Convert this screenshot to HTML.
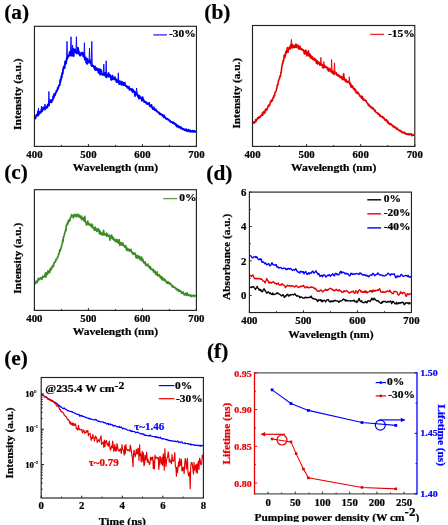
<!DOCTYPE html>
<html><head><meta charset="utf-8"><style>
html,body{margin:0;padding:0;background:#fff;width:448px;height:525px;overflow:hidden}
svg{display:block;will-change:transform;font-family:"Liberation Serif",serif;font-weight:bold}
</style></head><body>
<svg width="448" height="525" viewBox="0 0 448 525">
<text x="4.2" y="18.8" font-size="21.3" text-anchor="start" fill="#000"  stroke="#000" stroke-width="0.22">(a)</text>
<text x="204.3" y="18.8" font-size="21.3" text-anchor="start" fill="#000"  stroke="#000" stroke-width="0.22">(b)</text>
<text x="4.2" y="178.5" font-size="21.3" text-anchor="start" fill="#000"  stroke="#000" stroke-width="0.22">(c)</text>
<text x="206.3" y="179.8" font-size="21.3" text-anchor="start" fill="#000"  stroke="#000" stroke-width="0.22">(d)</text>
<text x="4.2" y="364.9" font-size="21.3" text-anchor="start" fill="#000"  stroke="#000" stroke-width="0.22">(e)</text>
<text x="207" y="357.5" font-size="21.3" text-anchor="start" fill="#000"  stroke="#000" stroke-width="0.22">(f)</text>
<path d="M35.1 116.9 L35.4 118.5 L35.7 118.0 L36.0 115.3 L36.4 115.3 L36.7 114.6 L37.0 115.7 L37.4 114.5 L37.7 115.2 L38.0 111.3 L38.3 115.7 L38.7 113.1 L39.0 113.8 L39.3 112.4 L39.7 111.9 L40.0 112.8 L40.3 113.0 L40.7 111.4 L41.0 111.3 L41.3 112.2 L41.6 109.9 L42.0 108.8 L42.3 111.1 L42.6 109.5 L43.0 107.6 L43.3 108.8 L43.6 109.0 L44.0 107.7 L44.3 107.1 L44.6 108.8 L44.9 109.6 L45.3 107.8 L45.6 106.8 L45.9 108.0 L46.3 108.1 L46.6 106.4 L46.9 107.2 L47.3 107.5 L47.6 105.5 L47.9 104.3 L48.2 105.4 L48.6 104.9 L48.9 105.6 L49.2 102.1 L49.6 102.5 L49.9 101.8 L50.2 100.2 L50.6 102.1 L50.9 102.2 L51.2 100.1 L51.5 102.3 L51.9 101.1 L52.2 100.4 L52.5 99.5 L52.9 99.7 L53.2 96.2 L53.5 98.1 L53.9 97.5 L54.2 93.9 L54.5 95.9 L54.8 94.5 L55.2 95.1 L55.5 92.9 L55.8 92.8 L56.2 92.5 L56.5 90.3 L56.8 91.4 L57.2 89.8 L57.5 89.7 L57.8 87.7 L58.1 88.8 L58.5 87.3 L58.8 85.5 L59.1 85.5 L59.5 85.3 L59.8 85.0 L60.1 79.9 L60.5 81.8 L60.8 80.2 L61.1 78.3 L61.4 75.9 L61.8 77.6 L62.1 73.0 L62.4 74.1 L62.8 73.8 L63.1 68.6 L63.4 69.1 L63.8 66.5 L64.1 67.5 L64.4 68.2 L64.7 67.9 L65.1 61.3 L65.4 62.1 L65.7 63.1 L66.1 63.6 L66.4 61.0 L66.7 58.4 L67.1 59.3 L67.4 58.1 L67.7 57.1 L68.0 55.6 L68.4 56.8 L68.7 56.1 L69.0 54.9 L69.4 54.2 L69.7 52.0 L70.0 52.9 L70.4 55.5 L70.7 52.8 L71.0 50.2 L71.3 54.9 L71.7 53.2 L72.0 55.9 L72.3 51.9 L72.7 50.7 L73.0 48.7 L73.3 53.8 L73.7 56.1 L74.0 49.4 L74.3 49.7 L74.6 52.1 L75.0 49.3 L75.3 50.4 L75.6 50.3 L76.0 51.5 L76.3 53.4 L76.6 51.4 L77.0 53.3 L77.3 50.8 L77.6 52.4 L77.9 47.7 L78.3 49.3 L78.6 53.8 L78.9 51.3 L79.3 53.8 L79.6 53.9 L79.9 55.6 L80.3 54.9 L80.6 55.5 L80.9 53.6 L81.2 52.7 L81.6 52.9 L81.9 53.7 L82.2 52.7 L82.6 54.2 L82.9 55.3 L83.2 56.3 L83.6 55.6 L83.9 53.0 L84.2 56.8 L84.5 57.7 L84.9 59.7 L85.2 59.1 L85.5 57.3 L85.9 57.5 L86.2 62.8 L86.5 60.8 L86.9 63.1 L87.2 63.9 L87.5 58.9 L87.8 61.4 L88.2 61.8 L88.5 62.2 L88.8 62.5 L89.2 62.2 L89.5 62.4 L89.8 59.8 L90.2 62.5 L90.5 61.8 L90.8 63.7 L91.1 63.1 L91.5 65.3 L91.8 66.1 L92.1 65.6 L92.5 66.1 L92.8 66.1 L93.1 65.6 L93.5 66.5 L93.8 66.3 L94.1 68.2 L94.4 67.9 L94.8 69.1 L95.1 66.3 L95.4 70.2 L95.8 67.7 L96.1 68.0 L96.4 69.1 L96.8 68.8 L97.1 70.4 L97.4 69.2 L97.7 68.6 L98.1 69.2 L98.4 72.8 L98.7 71.0 L99.1 69.3 L99.4 71.4 L99.7 69.2 L100.1 74.7 L100.4 69.7 L100.7 73.0 L101.0 73.4 L101.4 70.5 L101.7 73.4 L102.0 74.6 L102.4 74.0 L102.7 73.9 L103.0 75.1 L103.4 74.0 L103.7 74.4 L104.0 73.8 L104.3 75.1 L104.7 72.9 L105.0 75.6 L105.3 73.8 L105.7 73.0 L106.0 75.3 L106.3 77.4 L106.7 76.5 L107.0 74.5 L107.3 76.5 L107.6 75.0 L108.0 75.7 L108.3 76.2 L108.6 73.0 L109.0 76.8 L109.3 75.3 L109.6 75.9 L110.0 75.0 L110.3 75.1 L110.6 76.1 L110.9 78.7 L111.3 80.0 L111.6 77.8 L111.9 79.5 L112.3 77.8 L112.6 75.7 L112.9 78.6 L113.3 79.1 L113.6 78.0 L113.9 79.1 L114.2 79.6 L114.6 77.9 L114.9 77.2 L115.2 79.0 L115.6 79.2 L115.9 79.2 L116.2 81.0 L116.6 82.1 L116.9 79.6 L117.2 81.2 L117.5 81.6 L117.9 81.5 L118.2 82.2 L118.5 80.6 L118.9 82.2 L119.2 84.0 L119.5 82.7 L119.9 81.2 L120.2 82.9 L120.5 83.9 L120.8 83.0 L121.2 82.1 L121.5 84.8 L121.8 81.7 L122.2 83.9 L122.5 83.4 L122.8 82.3 L123.2 85.2 L123.5 84.3 L123.8 82.8 L124.1 85.0 L124.5 84.0 L124.8 82.6 L125.1 84.2 L125.5 85.4 L125.8 86.1 L126.1 85.8 L126.5 85.9 L126.8 86.6 L127.1 86.2 L127.4 87.9 L127.8 87.1 L128.1 87.5 L128.4 88.0 L128.8 86.7 L129.1 87.3 L129.4 89.9 L129.8 88.9 L130.1 88.6 L130.4 89.5 L130.7 88.9 L131.1 90.0 L131.4 89.3 L131.7 90.5 L132.1 89.0 L132.4 92.0 L132.7 90.6 L133.1 89.8 L133.4 91.4 L133.7 91.5 L134.0 92.3 L134.4 91.4 L134.7 93.0 L135.0 96.2 L135.4 92.1 L135.7 93.8 L136.0 93.5 L136.4 94.2 L136.7 92.8 L137.0 93.6 L137.3 95.3 L137.7 95.1 L138.0 96.8 L138.3 95.1 L138.7 96.2 L139.0 98.7 L139.3 95.9 L139.7 96.1 L140.0 97.1 L140.3 97.4 L140.6 98.4 L141.0 98.1 L141.3 97.6 L141.6 98.7 L142.0 100.8 L142.3 100.0 L142.6 97.2 L143.0 99.5 L143.3 99.2 L143.6 100.6 L143.9 100.3 L144.3 102.2 L144.6 101.7 L144.9 101.9 L145.3 101.7 L145.6 101.8 L145.9 102.3 L146.3 103.3 L146.6 103.0 L146.9 102.6 L147.2 104.1 L147.6 103.6 L147.9 103.6 L148.2 103.4 L148.6 103.8 L148.9 104.1 L149.2 102.8 L149.6 105.8 L149.9 105.7 L150.2 105.5 L150.5 106.6 L150.9 106.5 L151.2 106.7 L151.5 105.0 L151.9 106.8 L152.2 107.6 L152.5 108.6 L152.9 109.0 L153.2 109.0 L153.5 107.6 L153.8 107.2 L154.2 109.3 L154.5 109.2 L154.8 110.1 L155.2 109.6 L155.5 110.1 L155.8 109.3 L156.2 110.8 L156.5 110.5 L156.8 111.3 L157.1 111.6 L157.5 111.5 L157.8 112.0 L158.1 112.1 L158.5 112.8 L158.8 112.9 L159.1 112.5 L159.5 112.7 L159.8 114.4 L160.1 113.5 L160.4 114.5 L160.8 114.3 L161.1 114.0 L161.4 114.2 L161.8 114.9 L162.1 115.3 L162.4 115.7 L162.8 114.9 L163.1 115.5 L163.4 116.1 L163.7 117.3 L164.1 115.3 L164.4 117.1 L164.7 116.8 L165.1 117.6 L165.4 117.3 L165.7 118.0 L166.1 118.9 L166.4 118.5 L166.7 118.8 L167.0 119.0 L167.4 118.6 L167.7 119.5 L168.0 119.4 L168.4 119.3 L168.7 119.9 L169.0 120.0 L169.4 120.7 L169.7 120.6 L170.0 120.5 L170.3 121.7 L170.7 121.7 L171.0 122.1 L171.3 122.0 L171.7 121.8 L172.0 121.9 L172.3 122.2 L172.7 123.0 L173.0 122.9 L173.3 122.3 L173.6 123.3 L174.0 122.8 L174.3 123.8 L174.6 123.4 L175.0 123.6 L175.3 124.5 L175.6 124.7 L176.0 124.2 L176.3 125.6 L176.6 126.5 L176.9 125.0 L177.3 126.7 L177.6 125.8 L177.9 126.1 L178.3 126.4 L178.6 126.0 L178.9 127.5 L179.3 127.3 L179.6 126.9 L179.9 127.3 L180.2 126.9 L180.6 127.6 L180.9 128.4 L181.2 127.3 L181.6 128.1 L181.9 128.5 L182.2 129.1 L182.6 129.4 L182.9 128.7 L183.2 128.7 L183.5 129.4 L183.9 129.1 L184.2 129.3 L184.5 130.0 L184.9 130.4 L185.2 129.8 L185.5 129.7 L185.9 130.2 L186.2 129.2 L186.5 130.1 L186.8 129.8 L187.2 131.4 L187.5 130.7 L187.8 130.6 L188.2 130.5 L188.5 129.6 L188.8 131.0 L189.2 131.5 L189.5 130.6 L189.8 131.2 L190.1 131.3 L190.5 130.4 L190.8 131.5 L191.1 131.7 L191.5 131.3 L191.8 131.2 L192.1 131.6 L192.5 130.7 L192.8 131.4 L193.1 131.9 L193.4 131.0 L193.8 131.9 L194.1 131.4 L194.4 130.8 L194.8 131.6 L195.1 131.3 L195.4 131.8 L195.8 131.2" fill="none" stroke="#0000ff" stroke-width="1.8" stroke-linejoin="round"/>
<path d="M48.4 105.6 L48.9 91.5 L49.4 105.6" fill="none" stroke="#0000ff" stroke-width="0.9"/>
<path d="M66.5 59.1 L67.0 41.4 L67.5 59.1" fill="none" stroke="#0000ff" stroke-width="0.9"/>
<path d="M70.5 50.4 L71.0 36.7 L71.5 50.4" fill="none" stroke="#0000ff" stroke-width="0.9"/>
<path d="M75.9 52.8 L76.4 36.7 L76.9 52.8" fill="none" stroke="#0000ff" stroke-width="0.9"/>
<path d="M83.9 57.3 L84.4 42.7 L84.9 57.3" fill="none" stroke="#0000ff" stroke-width="0.9"/>
<path d="M89.0 62.4 L89.5 48.1 L90.0 62.4" fill="none" stroke="#0000ff" stroke-width="0.9"/>
<path d="M91.3 66.0 L91.8 41.4 L92.3 66.0" fill="none" stroke="#0000ff" stroke-width="0.9"/>
<path d="M103.3 74.2 L103.8 64.1 L104.3 74.2" fill="none" stroke="#0000ff" stroke-width="0.9"/>
<path d="M105.7 76.6 L106.2 60.8 L106.7 76.6" fill="none" stroke="#0000ff" stroke-width="0.9"/>
<path d="M117.8 81.7 L118.3 72.8 L118.8 81.7" fill="none" stroke="#0000ff" stroke-width="0.9"/>
<path d="M136.1 93.2 L136.6 88.0 L137.1 93.2" fill="none" stroke="#0000ff" stroke-width="0.9"/>
<path d="M38.0 114.5 L38.5 108.0 L39.0 114.5" fill="none" stroke="#0000ff" stroke-width="0.9"/>
<path d="M41.0 110.9 L41.5 106.0 L42.0 110.9" fill="none" stroke="#0000ff" stroke-width="0.9"/>
<path d="M44.5 109.3 L45.0 104.0 L45.5 109.3" fill="none" stroke="#0000ff" stroke-width="0.9"/>
<path d="M72.0 51.3 L72.5 45.0 L73.0 51.3" fill="none" stroke="#0000ff" stroke-width="0.9"/>
<rect x="34.45" y="26.3" width="162.0" height="120.10000000000001" fill="none" stroke="#222" stroke-width="1.15"/>
<line x1="34.45" y1="146.4" x2="34.45" y2="144.1" stroke="#222" stroke-width="1"/>
<text font-size="9.83" text-anchor="middle" fill="#000"  transform="translate(34.45,158.00) scale(1.0989,1)" stroke="#000" stroke-width="0.22">400</text>
<line x1="88.45" y1="146.4" x2="88.45" y2="144.1" stroke="#222" stroke-width="1"/>
<text font-size="9.83" text-anchor="middle" fill="#000"  transform="translate(88.45,158.00) scale(1.0989,1)" stroke="#000" stroke-width="0.22">500</text>
<line x1="142.45" y1="146.4" x2="142.45" y2="144.1" stroke="#222" stroke-width="1"/>
<text font-size="9.83" text-anchor="middle" fill="#000"  transform="translate(142.45,158.00) scale(1.0989,1)" stroke="#000" stroke-width="0.22">600</text>
<line x1="196.45" y1="146.4" x2="196.45" y2="144.1" stroke="#222" stroke-width="1"/>
<text font-size="9.83" text-anchor="middle" fill="#000"  transform="translate(196.45,158.00) scale(1.0989,1)" stroke="#000" stroke-width="0.22">700</text>
<line x1="61.45" y1="146.4" x2="61.45" y2="145.02" stroke="#222" stroke-width="1"/>
<line x1="115.45" y1="146.4" x2="115.45" y2="145.02" stroke="#222" stroke-width="1"/>
<line x1="169.45" y1="146.4" x2="169.45" y2="145.02" stroke="#222" stroke-width="1"/>
<text font-size="10.56" text-anchor="middle" fill="#000"  transform="translate(115.4,171.4) scale(1.0989,1)" stroke="#000" stroke-width="0.22">Wavelength (nm)</text>
<text transform="translate(20.8,94.15) rotate(-90) scale(1.0989,1)" font-size="10.42" text-anchor="middle" stroke="#000" stroke-width="0.22">Intensity (a.u.)</text>
<line x1="153.3" y1="34.9" x2="166.9" y2="34.9" stroke="#0000ff" stroke-width="1.3" stroke-opacity="0.85"/>
<text font-size="10.46" text-anchor="start" fill="#000"  transform="translate(168.9,36.9) scale(1.0989,1)" stroke="#000" stroke-width="0.22">-30%</text>
<path d="M253.1 123.9 L253.4 122.1 L253.8 122.9 L254.1 121.8 L254.4 121.8 L254.8 122.8 L255.1 121.6 L255.4 120.7 L255.7 119.6 L256.1 121.5 L256.4 120.8 L256.7 119.5 L257.1 119.7 L257.4 118.1 L257.7 117.8 L258.1 117.7 L258.4 118.5 L258.7 118.1 L259.0 116.8 L259.4 117.8 L259.7 117.6 L260.0 116.7 L260.4 117.2 L260.7 115.6 L261.0 115.4 L261.4 115.6 L261.7 114.8 L262.0 115.3 L262.3 113.0 L262.7 115.3 L263.0 112.8 L263.3 113.1 L263.7 111.5 L264.0 113.2 L264.3 113.5 L264.7 112.9 L265.0 112.3 L265.3 109.5 L265.6 109.9 L266.0 109.8 L266.3 108.8 L266.6 110.4 L267.0 109.0 L267.3 108.2 L267.6 108.2 L268.0 106.2 L268.3 105.7 L268.6 105.2 L268.9 106.1 L269.3 105.3 L269.6 105.0 L269.9 105.0 L270.3 101.8 L270.6 102.0 L270.9 102.2 L271.3 100.0 L271.6 100.2 L271.9 101.2 L272.2 100.6 L272.6 99.9 L272.9 98.1 L273.2 97.2 L273.6 97.9 L273.9 95.5 L274.2 95.5 L274.6 95.8 L274.9 93.1 L275.2 92.0 L275.5 91.7 L275.9 91.5 L276.2 90.4 L276.5 89.0 L276.9 88.4 L277.2 85.0 L277.5 84.8 L277.9 84.9 L278.2 82.6 L278.5 81.0 L278.8 80.0 L279.2 79.2 L279.5 78.7 L279.8 76.4 L280.2 76.3 L280.5 76.4 L280.8 72.6 L281.2 72.5 L281.5 69.6 L281.8 66.4 L282.1 65.7 L282.5 63.2 L282.8 63.6 L283.1 60.0 L283.5 61.4 L283.8 59.4 L284.1 55.3 L284.5 57.7 L284.8 57.8 L285.1 54.3 L285.4 55.6 L285.8 51.7 L286.1 53.4 L286.4 50.5 L286.8 52.4 L287.1 49.1 L287.4 47.6 L287.8 50.6 L288.1 52.3 L288.4 48.4 L288.7 49.6 L289.1 48.2 L289.4 47.3 L289.7 48.0 L290.1 48.9 L290.4 45.2 L290.7 47.1 L291.1 46.6 L291.4 44.3 L291.7 47.7 L292.0 48.0 L292.4 44.5 L292.7 47.7 L293.0 45.7 L293.4 45.4 L293.7 47.4 L294.0 45.9 L294.4 46.0 L294.7 47.5 L295.0 47.3 L295.3 46.9 L295.7 44.2 L296.0 44.1 L296.3 47.4 L296.7 45.1 L297.0 46.5 L297.3 45.2 L297.7 46.4 L298.0 45.3 L298.3 48.8 L298.6 46.0 L299.0 47.2 L299.3 47.3 L299.6 49.2 L300.0 46.4 L300.3 48.2 L300.6 48.2 L301.0 49.3 L301.3 49.5 L301.6 48.7 L301.9 49.7 L302.3 49.3 L302.6 50.5 L302.9 50.1 L303.3 49.8 L303.6 50.8 L303.9 51.5 L304.3 53.9 L304.6 51.1 L304.9 52.2 L305.2 53.8 L305.6 50.0 L305.9 50.7 L306.2 51.5 L306.6 53.0 L306.9 56.0 L307.2 54.0 L307.6 55.1 L307.9 53.7 L308.2 51.5 L308.5 51.9 L308.9 55.9 L309.2 55.2 L309.5 53.9 L309.9 56.8 L310.2 54.2 L310.5 57.5 L310.9 58.1 L311.2 56.0 L311.5 56.0 L311.8 58.5 L312.2 56.7 L312.5 59.1 L312.8 57.2 L313.2 59.7 L313.5 59.2 L313.8 58.9 L314.2 58.7 L314.5 60.2 L314.8 58.2 L315.1 60.2 L315.5 60.3 L315.8 61.7 L316.1 59.9 L316.5 63.3 L316.8 61.4 L317.1 60.8 L317.5 63.7 L317.8 64.1 L318.1 62.4 L318.4 61.8 L318.8 63.0 L319.1 62.4 L319.4 62.9 L319.8 65.1 L320.1 64.0 L320.4 63.9 L320.8 64.3 L321.1 64.1 L321.4 65.2 L321.7 65.5 L322.1 64.4 L322.4 65.1 L322.7 67.7 L323.1 65.8 L323.4 65.4 L323.7 67.9 L324.1 66.1 L324.4 65.1 L324.7 67.2 L325.0 65.8 L325.4 66.4 L325.7 67.5 L326.0 67.2 L326.4 66.8 L326.7 67.2 L327.0 67.4 L327.4 69.4 L327.7 67.7 L328.0 68.1 L328.3 71.0 L328.7 68.6 L329.0 70.9 L329.3 70.9 L329.7 69.7 L330.0 68.6 L330.3 70.7 L330.7 71.1 L331.0 71.7 L331.3 71.0 L331.6 72.3 L332.0 72.7 L332.3 70.6 L332.6 73.2 L333.0 72.2 L333.3 71.7 L333.6 72.2 L334.0 74.5 L334.3 73.8 L334.6 71.4 L334.9 73.4 L335.3 73.4 L335.6 73.6 L335.9 73.5 L336.3 72.8 L336.6 75.2 L336.9 73.8 L337.3 74.5 L337.6 74.5 L337.9 74.6 L338.2 76.2 L338.6 76.1 L338.9 75.3 L339.2 75.3 L339.6 76.0 L339.9 77.5 L340.2 76.9 L340.6 77.3 L340.9 77.0 L341.2 77.2 L341.5 77.9 L341.9 76.3 L342.2 79.5 L342.5 77.6 L342.9 78.0 L343.2 79.8 L343.5 79.1 L343.9 79.1 L344.2 78.8 L344.5 78.2 L344.8 79.9 L345.2 81.0 L345.5 79.5 L345.8 81.6 L346.2 79.9 L346.5 80.5 L346.8 81.8 L347.2 81.6 L347.5 82.5 L347.8 81.7 L348.1 81.7 L348.5 81.4 L348.8 82.2 L349.1 82.6 L349.5 82.7 L349.8 84.3 L350.1 83.9 L350.5 83.2 L350.8 87.0 L351.1 84.8 L351.4 84.9 L351.8 87.2 L352.1 87.5 L352.4 86.1 L352.8 86.3 L353.1 87.0 L353.4 89.0 L353.8 88.3 L354.1 88.3 L354.4 89.3 L354.7 90.5 L355.1 89.1 L355.4 90.2 L355.7 89.8 L356.1 92.8 L356.4 92.9 L356.7 92.7 L357.1 92.3 L357.4 93.3 L357.7 91.7 L358.0 93.8 L358.4 93.1 L358.7 93.5 L359.0 94.3 L359.4 94.9 L359.7 95.9 L360.0 96.3 L360.4 96.4 L360.7 95.9 L361.0 97.3 L361.3 97.0 L361.7 98.2 L362.0 97.1 L362.3 96.2 L362.7 97.9 L363.0 99.9 L363.3 99.1 L363.7 98.9 L364.0 99.9 L364.3 99.9 L364.6 100.2 L365.0 99.9 L365.3 100.6 L365.6 101.0 L366.0 100.8 L366.3 100.9 L366.6 102.0 L367.0 102.9 L367.3 103.1 L367.6 103.3 L367.9 103.7 L368.3 105.3 L368.6 104.3 L368.9 105.2 L369.3 106.1 L369.6 105.4 L369.9 105.8 L370.3 106.6 L370.6 107.3 L370.9 106.9 L371.2 107.3 L371.6 107.5 L371.9 107.1 L372.2 108.7 L372.6 108.3 L372.9 107.9 L373.2 109.0 L373.6 108.5 L373.9 109.2 L374.2 110.1 L374.5 109.9 L374.9 111.3 L375.2 110.3 L375.5 111.5 L375.9 112.0 L376.2 112.7 L376.5 112.7 L376.9 112.7 L377.2 112.9 L377.5 113.1 L377.8 114.0 L378.2 113.3 L378.5 114.2 L378.8 114.2 L379.2 114.6 L379.5 114.6 L379.8 116.2 L380.2 115.0 L380.5 115.7 L380.8 116.0 L381.1 116.5 L381.5 116.7 L381.8 116.9 L382.1 117.5 L382.5 116.5 L382.8 117.5 L383.1 117.2 L383.5 118.2 L383.8 117.7 L384.1 118.1 L384.4 118.9 L384.8 119.9 L385.1 119.7 L385.4 119.9 L385.8 120.7 L386.1 119.8 L386.4 119.5 L386.8 120.6 L387.1 120.9 L387.4 122.0 L387.7 122.7 L388.1 121.3 L388.4 123.4 L388.7 123.2 L389.1 123.2 L389.4 123.2 L389.7 124.5 L390.1 123.6 L390.4 123.6 L390.7 124.2 L391.0 123.8 L391.4 124.9 L391.7 124.9 L392.0 125.4 L392.4 125.7 L392.7 125.3 L393.0 126.7 L393.4 125.9 L393.7 127.1 L394.0 126.2 L394.3 127.4 L394.7 127.1 L395.0 127.7 L395.3 127.7 L395.7 127.2 L396.0 127.9 L396.3 128.7 L396.7 129.2 L397.0 128.4 L397.3 128.3 L397.6 129.1 L398.0 129.6 L398.3 129.6 L398.6 129.7 L399.0 130.6 L399.3 130.9 L399.6 131.0 L400.0 130.4 L400.3 131.0 L400.6 131.1 L400.9 130.7 L401.3 131.9 L401.6 131.7 L401.9 131.6 L402.3 132.6 L402.6 132.4 L402.9 132.6 L403.3 132.9 L403.6 132.8 L403.9 132.1 L404.2 132.6 L404.6 133.4 L404.9 132.7 L405.2 133.2 L405.6 133.5 L405.9 134.1 L406.2 134.1 L406.6 134.0 L406.9 133.7 L407.2 134.2 L407.5 134.1 L407.9 133.9 L408.2 134.6 L408.5 134.3 L408.9 133.9 L409.2 134.8 L409.5 134.2 L409.9 134.7 L410.2 133.8 L410.5 134.5 L410.8 134.2 L411.2 134.3 L411.5 133.9 L411.8 135.7 L412.2 134.8 L412.5 135.0 L412.8 135.4 L413.2 134.9 L413.5 135.2 L413.8 134.5 L414.1 135.2" fill="none" stroke="#e60000" stroke-width="1.6" stroke-linejoin="round"/>
<path d="M290.9 44.5 L291.4 39.4 L291.9 44.5" fill="none" stroke="#e60000" stroke-width="0.9"/>
<path d="M307.9 51.8 L308.4 50.0 L308.9 51.8" fill="none" stroke="#e60000" stroke-width="0.9"/>
<path d="M320.4 64.2 L320.9 57.4 L321.4 64.2" fill="none" stroke="#e60000" stroke-width="0.9"/>
<path d="M323.3 67.5 L323.8 61.5 L324.3 67.5" fill="none" stroke="#e60000" stroke-width="0.9"/>
<path d="M331.1 72.2 L331.6 59.5 L332.1 72.2" fill="none" stroke="#e60000" stroke-width="0.9"/>
<path d="M334.0 72.2 L334.5 62.8 L335.0 72.2" fill="none" stroke="#e60000" stroke-width="0.9"/>
<path d="M342.9 79.3 L343.4 73.4 L343.9 79.3" fill="none" stroke="#e60000" stroke-width="0.9"/>
<path d="M348.8 82.6 L349.3 76.8 L349.8 82.6" fill="none" stroke="#e60000" stroke-width="0.9"/>
<path d="M343.4 79.1 L343.9 73.5 L344.4 79.1" fill="none" stroke="#e60000" stroke-width="0.9"/>
<rect x="252.5" y="25.5" width="162.3" height="120.9" fill="none" stroke="#222" stroke-width="1.15"/>
<line x1="252.50" y1="146.4" x2="252.50" y2="144.1" stroke="#222" stroke-width="1"/>
<text font-size="9.83" text-anchor="middle" fill="#000"  transform="translate(252.50,158.00) scale(1.0989,1)" stroke="#000" stroke-width="0.22">400</text>
<line x1="306.60" y1="146.4" x2="306.60" y2="144.1" stroke="#222" stroke-width="1"/>
<text font-size="9.83" text-anchor="middle" fill="#000"  transform="translate(306.60,158.00) scale(1.0989,1)" stroke="#000" stroke-width="0.22">500</text>
<line x1="360.70" y1="146.4" x2="360.70" y2="144.1" stroke="#222" stroke-width="1"/>
<text font-size="9.83" text-anchor="middle" fill="#000"  transform="translate(360.70,158.00) scale(1.0989,1)" stroke="#000" stroke-width="0.22">600</text>
<line x1="414.80" y1="146.4" x2="414.80" y2="144.1" stroke="#222" stroke-width="1"/>
<text font-size="9.83" text-anchor="middle" fill="#000"  transform="translate(414.80,158.00) scale(1.0989,1)" stroke="#000" stroke-width="0.22">700</text>
<line x1="279.55" y1="146.4" x2="279.55" y2="145.02" stroke="#222" stroke-width="1"/>
<line x1="333.65" y1="146.4" x2="333.65" y2="145.02" stroke="#222" stroke-width="1"/>
<line x1="387.75" y1="146.4" x2="387.75" y2="145.02" stroke="#222" stroke-width="1"/>
<text font-size="10.56" text-anchor="middle" fill="#000"  transform="translate(333.6,171.4) scale(1.0989,1)" stroke="#000" stroke-width="0.22">Wavelength (nm)</text>
<text transform="translate(240.0,93.25) rotate(-90) scale(1.0989,1)" font-size="10.28" text-anchor="middle" stroke="#000" stroke-width="0.22">Intensity (a.u.)</text>
<line x1="370.3" y1="34.4" x2="384" y2="34.4" stroke="#e60000" stroke-width="1.3" stroke-opacity="0.85"/>
<text font-size="10.46" text-anchor="start" fill="#000"  transform="translate(388,36.6) scale(1.0989,1)" stroke="#000" stroke-width="0.22">-15%</text>
<path d="M35.0 283.1 L35.3 283.7 L35.7 283.2 L36.0 281.7 L36.3 281.1 L36.6 281.4 L37.0 282.5 L37.3 281.9 L37.6 281.6 L38.0 279.3 L38.3 278.5 L38.6 279.8 L39.0 279.7 L39.3 279.1 L39.6 279.6 L39.9 278.9 L40.3 277.8 L40.6 277.8 L40.9 278.3 L41.3 278.0 L41.6 277.7 L41.9 279.4 L42.3 277.1 L42.6 277.3 L42.9 276.2 L43.2 276.6 L43.6 277.1 L43.9 277.0 L44.2 276.2 L44.6 276.5 L44.9 276.0 L45.2 274.2 L45.6 272.9 L45.9 277.1 L46.2 275.6 L46.5 274.5 L46.9 272.8 L47.2 272.8 L47.5 274.5 L47.9 270.8 L48.2 272.3 L48.5 272.8 L48.9 271.8 L49.2 271.9 L49.5 270.7 L49.8 272.3 L50.2 269.1 L50.5 268.4 L50.8 269.2 L51.2 269.6 L51.5 267.9 L51.8 268.3 L52.2 266.5 L52.5 265.5 L52.8 267.0 L53.1 266.6 L53.5 266.0 L53.8 263.8 L54.1 262.7 L54.5 262.2 L54.8 262.3 L55.1 262.4 L55.5 261.8 L55.8 259.5 L56.1 260.3 L56.4 259.5 L56.8 258.8 L57.1 258.1 L57.4 257.2 L57.8 257.2 L58.1 256.0 L58.4 255.3 L58.8 253.7 L59.1 253.8 L59.4 252.5 L59.7 249.8 L60.1 251.2 L60.4 249.6 L60.7 249.7 L61.1 247.6 L61.4 246.5 L61.7 245.6 L62.1 244.1 L62.4 242.4 L62.7 239.7 L63.0 241.9 L63.4 237.0 L63.7 236.8 L64.0 236.2 L64.4 234.5 L64.7 233.2 L65.0 232.1 L65.4 231.3 L65.7 229.0 L66.0 230.7 L66.3 225.4 L66.7 225.7 L67.0 224.2 L67.3 223.1 L67.7 223.3 L68.0 223.9 L68.3 220.8 L68.7 220.1 L69.0 221.0 L69.3 220.1 L69.6 221.2 L70.0 219.5 L70.3 218.1 L70.6 217.0 L71.0 217.3 L71.3 216.5 L71.6 214.7 L72.0 216.2 L72.3 215.8 L72.6 215.6 L72.9 215.3 L73.3 217.9 L73.6 216.6 L73.9 216.8 L74.3 214.8 L74.6 214.3 L74.9 215.2 L75.3 215.9 L75.6 215.1 L75.9 215.3 L76.2 216.9 L76.6 216.1 L76.9 214.4 L77.2 215.2 L77.6 215.0 L77.9 216.1 L78.2 214.4 L78.6 215.8 L78.9 217.1 L79.2 216.4 L79.5 215.3 L79.9 215.9 L80.2 217.0 L80.5 217.7 L80.9 218.4 L81.2 217.4 L81.5 216.1 L81.9 219.9 L82.2 218.7 L82.5 219.1 L82.8 219.2 L83.2 217.7 L83.5 218.9 L83.8 219.9 L84.2 221.2 L84.5 220.2 L84.8 216.4 L85.2 220.4 L85.5 221.4 L85.8 222.9 L86.1 222.4 L86.5 225.0 L86.8 223.9 L87.1 224.1 L87.5 223.9 L87.8 221.2 L88.1 224.3 L88.5 224.3 L88.8 223.2 L89.1 224.9 L89.4 224.9 L89.8 224.1 L90.1 224.8 L90.4 224.9 L90.8 225.8 L91.1 225.3 L91.4 226.8 L91.8 224.0 L92.1 226.3 L92.4 224.8 L92.7 226.6 L93.1 228.2 L93.4 227.8 L93.7 227.9 L94.1 228.4 L94.4 230.5 L94.7 227.4 L95.1 230.2 L95.4 227.4 L95.7 229.0 L96.0 230.0 L96.4 229.0 L96.7 230.5 L97.0 231.4 L97.4 229.2 L97.7 230.8 L98.0 230.6 L98.4 228.8 L98.7 231.1 L99.0 230.5 L99.3 233.3 L99.7 230.7 L100.0 234.0 L100.3 231.3 L100.7 234.5 L101.0 232.9 L101.3 233.0 L101.7 233.5 L102.0 233.8 L102.3 234.6 L102.6 235.2 L103.0 232.8 L103.3 231.9 L103.6 230.3 L104.0 233.3 L104.3 234.9 L104.6 234.7 L105.0 234.5 L105.3 234.2 L105.6 234.0 L105.9 234.6 L106.3 235.7 L106.6 233.2 L106.9 236.4 L107.3 233.9 L107.6 235.7 L107.9 235.3 L108.3 235.8 L108.6 235.1 L108.9 235.2 L109.2 236.5 L109.6 235.6 L109.9 240.1 L110.2 236.8 L110.6 236.6 L110.9 237.0 L111.2 236.5 L111.6 235.0 L111.9 237.9 L112.2 238.8 L112.5 236.8 L112.9 238.8 L113.2 237.6 L113.5 239.2 L113.9 239.9 L114.2 240.2 L114.5 240.4 L114.9 239.2 L115.2 241.3 L115.5 239.9 L115.8 241.1 L116.2 241.7 L116.5 240.6 L116.8 239.6 L117.2 242.1 L117.5 240.2 L117.8 240.7 L118.2 240.6 L118.5 243.1 L118.8 242.1 L119.1 239.7 L119.5 243.5 L119.8 245.3 L120.1 245.1 L120.5 242.5 L120.8 243.4 L121.1 244.1 L121.5 244.8 L121.8 243.9 L122.1 242.8 L122.4 245.2 L122.8 245.3 L123.1 243.3 L123.4 244.7 L123.8 245.7 L124.1 245.6 L124.4 246.5 L124.8 247.1 L125.1 247.1 L125.4 246.7 L125.7 245.6 L126.1 248.1 L126.4 249.2 L126.7 250.2 L127.1 248.2 L127.4 248.5 L127.7 250.4 L128.1 250.7 L128.4 249.8 L128.7 250.5 L129.0 249.2 L129.4 250.9 L129.7 249.7 L130.0 250.7 L130.4 251.0 L130.7 250.9 L131.0 249.4 L131.4 251.1 L131.7 252.6 L132.0 252.4 L132.3 252.3 L132.7 253.4 L133.0 254.0 L133.3 254.4 L133.7 252.9 L134.0 254.0 L134.3 253.9 L134.7 253.6 L135.0 253.2 L135.3 254.8 L135.6 254.3 L136.0 257.6 L136.3 255.5 L136.6 255.6 L137.0 255.7 L137.3 258.1 L137.6 255.6 L138.0 256.6 L138.3 256.2 L138.6 257.0 L138.9 257.3 L139.3 258.6 L139.6 256.4 L139.9 258.0 L140.3 259.8 L140.6 258.1 L140.9 258.7 L141.3 258.3 L141.6 257.0 L141.9 259.7 L142.2 261.2 L142.6 260.1 L142.9 259.2 L143.2 261.5 L143.6 261.7 L143.9 262.9 L144.2 263.2 L144.6 262.5 L144.9 263.4 L145.2 261.8 L145.5 264.7 L145.9 264.2 L146.2 265.3 L146.5 265.6 L146.9 264.7 L147.2 265.1 L147.5 264.8 L147.9 264.1 L148.2 266.0 L148.5 266.5 L148.8 265.8 L149.2 267.6 L149.5 267.4 L149.8 268.0 L150.2 267.3 L150.5 266.8 L150.8 269.2 L151.2 269.3 L151.5 269.1 L151.8 269.2 L152.1 269.6 L152.5 270.1 L152.8 270.1 L153.1 269.2 L153.5 271.8 L153.8 270.3 L154.1 271.5 L154.5 271.8 L154.8 272.5 L155.1 271.4 L155.4 273.8 L155.8 273.7 L156.1 274.0 L156.4 274.6 L156.8 273.3 L157.1 271.9 L157.4 274.7 L157.8 275.6 L158.1 275.8 L158.4 274.8 L158.7 275.4 L159.1 275.9 L159.4 274.7 L159.7 275.8 L160.1 276.0 L160.4 277.9 L160.7 276.6 L161.1 278.4 L161.4 277.6 L161.7 276.7 L162.0 279.6 L162.4 277.7 L162.7 279.0 L163.0 280.0 L163.4 278.8 L163.7 278.6 L164.0 280.4 L164.4 280.0 L164.7 279.3 L165.0 279.7 L165.3 280.4 L165.7 281.6 L166.0 281.0 L166.3 281.9 L166.7 282.8 L167.0 282.8 L167.3 283.1 L167.7 283.2 L168.0 281.6 L168.3 283.7 L168.6 283.4 L169.0 283.3 L169.3 283.0 L169.6 282.9 L170.0 283.4 L170.3 284.4 L170.6 283.9 L171.0 284.4 L171.3 284.7 L171.6 285.8 L171.9 285.4 L172.3 285.8 L172.6 287.0 L172.9 286.2 L173.3 287.0 L173.6 286.2 L173.9 287.3 L174.3 287.5 L174.6 287.7 L174.9 287.6 L175.2 287.5 L175.6 288.2 L175.9 288.4 L176.2 289.5 L176.6 289.7 L176.9 288.7 L177.2 290.0 L177.6 289.6 L177.9 290.4 L178.2 290.1 L178.5 289.7 L178.9 291.4 L179.2 291.3 L179.5 290.5 L179.9 290.3 L180.2 291.3 L180.5 291.0 L180.9 291.7 L181.2 292.4 L181.5 293.1 L181.8 292.2 L182.2 293.3 L182.5 293.4 L182.8 292.6 L183.2 292.0 L183.5 293.6 L183.8 293.6 L184.2 294.8 L184.5 294.4 L184.8 294.1 L185.1 294.8 L185.5 293.4 L185.8 294.2 L186.1 294.1 L186.5 295.3 L186.8 294.8 L187.1 292.9 L187.5 295.4 L187.8 294.3 L188.1 295.3 L188.4 294.7 L188.8 295.1 L189.1 295.4 L189.4 295.3 L189.8 294.7 L190.1 296.0 L190.4 295.6 L190.8 295.4 L191.1 295.9 L191.4 295.3 L191.7 296.6 L192.1 295.8 L192.4 295.9 L192.7 295.9 L193.1 295.3 L193.4 295.2 L193.7 296.0 L194.1 296.1 L194.4 296.6 L194.7 296.1 L195.0 295.4 L195.4 296.2 L195.7 296.3" fill="none" stroke="#3d8c28" stroke-width="1.7" stroke-linejoin="round"/>
<rect x="34.4" y="189.7" width="162.0" height="120.69999999999999" fill="none" stroke="#222" stroke-width="1.15"/>
<line x1="34.40" y1="310.4" x2="34.40" y2="308.09999999999997" stroke="#222" stroke-width="1"/>
<text font-size="9.83" text-anchor="middle" fill="#000"  transform="translate(34.40,322.00) scale(1.0989,1)" stroke="#000" stroke-width="0.22">400</text>
<line x1="88.40" y1="310.4" x2="88.40" y2="308.09999999999997" stroke="#222" stroke-width="1"/>
<text font-size="9.83" text-anchor="middle" fill="#000"  transform="translate(88.40,322.00) scale(1.0989,1)" stroke="#000" stroke-width="0.22">500</text>
<line x1="142.40" y1="310.4" x2="142.40" y2="308.09999999999997" stroke="#222" stroke-width="1"/>
<text font-size="9.83" text-anchor="middle" fill="#000"  transform="translate(142.40,322.00) scale(1.0989,1)" stroke="#000" stroke-width="0.22">600</text>
<line x1="196.40" y1="310.4" x2="196.40" y2="308.09999999999997" stroke="#222" stroke-width="1"/>
<text font-size="9.83" text-anchor="middle" fill="#000"  transform="translate(196.40,322.00) scale(1.0989,1)" stroke="#000" stroke-width="0.22">700</text>
<line x1="61.40" y1="310.4" x2="61.40" y2="309.02" stroke="#222" stroke-width="1"/>
<line x1="115.40" y1="310.4" x2="115.40" y2="309.02" stroke="#222" stroke-width="1"/>
<line x1="169.40" y1="310.4" x2="169.40" y2="309.02" stroke="#222" stroke-width="1"/>
<text font-size="10.56" text-anchor="middle" fill="#000"  transform="translate(115.4,335.4) scale(1.0989,1)" stroke="#000" stroke-width="0.22">Wavelength (nm)</text>
<text transform="translate(20.6,258.3) rotate(-90) scale(1.0989,1)" font-size="10.37" text-anchor="middle" stroke="#000" stroke-width="0.22">Intensity (a.u.)</text>
<line x1="163.2" y1="198.6" x2="177.3" y2="198.6" stroke="#3d8c28" stroke-width="1.3" stroke-opacity="0.85"/>
<text font-size="10.46" text-anchor="start" fill="#000"  transform="translate(179.2,200.7) scale(1.0989,1)" stroke="#000" stroke-width="0.22">0%</text>
<path d="M250.0 286.9 L250.6 287.5 L251.2 286.9 L251.8 287.6 L252.4 286.8 L253.0 286.6 L253.6 286.7 L254.2 287.8 L254.8 288.1 L255.4 289.5 L256.0 288.6 L256.6 287.9 L257.2 286.3 L257.8 287.9 L258.4 288.6 L259.0 290.1 L259.6 289.2 L260.2 290.3 L260.8 289.8 L261.4 291.5 L262.0 291.3 L262.6 291.6 L263.2 289.8 L263.8 289.0 L264.4 289.0 L265.0 290.7 L265.6 291.3 L266.2 292.1 L266.8 293.3 L267.4 292.5 L268.0 291.9 L268.6 292.0 L269.2 292.9 L269.8 293.7 L270.4 292.8 L271.0 293.8 L271.6 294.3 L272.2 294.6 L272.8 293.0 L273.4 294.4 L274.0 294.6 L274.6 294.3 L275.2 294.2 L275.8 294.0 L276.4 293.6 L277.0 292.8 L277.6 293.5 L278.2 293.1 L278.8 293.8 L279.4 294.3 L280.0 294.4 L280.6 294.9 L281.2 295.6 L281.8 296.0 L282.4 295.1 L283.0 294.6 L283.6 295.7 L284.2 297.2 L284.8 297.3 L285.4 295.7 L286.0 296.1 L286.6 295.1 L287.2 294.5 L287.8 294.1 L288.4 296.0 L289.0 296.0 L289.6 295.5 L290.2 294.5 L290.8 295.1 L291.4 294.8 L292.0 294.7 L292.6 294.4 L293.2 294.7 L293.8 294.7 L294.4 294.2 L295.0 293.9 L295.6 295.1 L296.2 295.2 L296.8 296.2 L297.4 295.8 L298.0 296.1 L298.6 296.0 L299.2 296.3 L299.8 297.8 L300.4 297.0 L301.0 296.8 L301.6 297.2 L302.2 297.5 L302.8 298.0 L303.4 298.1 L304.0 298.0 L304.6 298.0 L305.2 297.2 L305.8 297.5 L306.4 297.3 L307.0 297.9 L307.6 297.8 L308.2 297.3 L308.8 297.3 L309.4 297.5 L310.0 297.0 L310.6 297.4 L311.2 296.0 L311.8 297.5 L312.4 298.6 L313.0 298.3 L313.6 298.8 L314.2 299.1 L314.8 298.8 L315.4 299.3 L316.0 299.2 L316.6 299.7 L317.2 300.9 L317.8 301.5 L318.4 299.7 L319.0 300.3 L319.6 299.9 L320.2 300.3 L320.8 299.8 L321.4 301.5 L322.0 300.1 L322.6 301.7 L323.2 300.9 L323.8 300.4 L324.4 300.2 L325.0 300.6 L325.6 302.0 L326.2 300.9 L326.8 300.3 L327.4 299.6 L328.0 299.5 L328.6 299.9 L329.2 301.5 L329.8 301.6 L330.4 302.1 L331.0 300.8 L331.6 301.5 L332.2 301.5 L332.8 301.0 L333.4 301.5 L334.0 300.5 L334.6 300.8 L335.2 300.2 L335.8 300.9 L336.4 300.9 L337.0 301.1 L337.6 300.9 L338.2 301.1 L338.8 302.4 L339.4 301.6 L340.0 301.0 L340.6 300.9 L341.2 301.0 L341.8 300.5 L342.4 300.2 L343.0 299.4 L343.6 299.0 L344.2 299.7 L344.8 299.6 L345.4 301.0 L346.0 300.0 L346.6 300.8 L347.2 300.5 L347.8 300.9 L348.4 300.8 L349.0 300.8 L349.6 300.8 L350.2 301.2 L350.8 300.7 L351.4 300.8 L352.0 300.7 L352.6 300.9 L353.2 301.0 L353.8 300.1 L354.4 300.5 L355.0 301.7 L355.6 301.9 L356.2 301.0 L356.8 302.5 L357.4 301.7 L358.0 301.1 L358.6 299.1 L359.2 298.4 L359.8 300.2 L360.4 301.5 L361.0 301.6 L361.6 300.7 L362.2 302.1 L362.8 302.6 L363.4 302.7 L364.0 302.7 L364.6 302.1 L365.2 302.1 L365.8 301.5 L366.4 302.8 L367.0 302.8 L367.6 301.3 L368.2 300.6 L368.8 300.8 L369.4 301.0 L370.0 301.5 L370.6 300.7 L371.2 299.6 L371.8 298.2 L372.4 299.1 L373.0 300.0 L373.6 299.4 L374.2 298.1 L374.8 299.0 L375.4 299.8 L376.0 300.1 L376.6 300.9 L377.2 300.6 L377.8 301.1 L378.4 300.8 L379.0 301.8 L379.6 302.1 L380.2 303.0 L380.8 303.3 L381.4 303.4 L382.0 301.7 L382.6 302.6 L383.2 301.2 L383.8 301.6 L384.4 301.3 L385.0 301.3 L385.6 301.5 L386.2 302.4 L386.8 302.4 L387.4 301.7 L388.0 301.3 L388.6 301.8 L389.2 302.1 L389.8 301.7 L390.4 300.9 L391.0 301.3 L391.6 303.7 L392.2 302.6 L392.8 301.3 L393.4 301.9 L394.0 302.3 L394.6 303.5 L395.2 303.8 L395.8 303.8 L396.4 302.3 L397.0 304.0 L397.6 303.3 L398.2 303.5 L398.8 302.7 L399.4 302.7 L400.0 303.5 L400.6 302.6 L401.2 302.9 L401.8 302.4 L402.4 302.0 L403.0 302.9 L403.6 302.6 L404.2 304.7 L404.8 304.0 L405.4 303.6 L406.0 302.5 L406.6 302.9 L407.2 303.2 L407.8 302.7 L408.4 302.9 L409.0 304.0 L409.6 302.7 L410.2 303.5 L410.8 303.4" fill="none" stroke="#000" stroke-width="1.35" stroke-linejoin="round"/>
<path d="M250.0 275.0 L250.6 275.8 L251.2 275.6 L251.8 276.2 L252.4 275.4 L253.0 275.0 L253.6 276.7 L254.2 278.2 L254.8 278.7 L255.4 278.7 L256.0 278.0 L256.6 278.9 L257.2 278.4 L257.8 278.5 L258.4 278.7 L259.0 279.0 L259.6 278.5 L260.2 278.6 L260.8 279.4 L261.4 279.1 L262.0 279.2 L262.6 280.4 L263.2 281.0 L263.8 280.9 L264.4 281.4 L265.0 282.9 L265.6 281.6 L266.2 280.2 L266.8 278.5 L267.4 280.4 L268.0 280.4 L268.6 282.4 L269.2 283.2 L269.8 282.0 L270.4 282.7 L271.0 282.4 L271.6 283.0 L272.2 282.2 L272.8 281.9 L273.4 281.7 L274.0 282.5 L274.6 283.4 L275.2 283.4 L275.8 283.2 L276.4 284.2 L277.0 283.9 L277.6 283.9 L278.2 282.9 L278.8 284.4 L279.4 285.0 L280.0 285.1 L280.6 284.4 L281.2 285.0 L281.8 283.9 L282.4 283.9 L283.0 284.8 L283.6 285.0 L284.2 285.3 L284.8 285.7 L285.4 287.7 L286.0 286.8 L286.6 286.5 L287.2 285.1 L287.8 285.7 L288.4 286.0 L289.0 286.0 L289.6 285.5 L290.2 285.8 L290.8 286.4 L291.4 285.7 L292.0 286.1 L292.6 286.0 L293.2 285.9 L293.8 286.4 L294.4 287.1 L295.0 286.7 L295.6 286.0 L296.2 285.5 L296.8 286.0 L297.4 286.7 L298.0 287.3 L298.6 287.6 L299.2 286.8 L299.8 286.9 L300.4 286.1 L301.0 286.8 L301.6 286.4 L302.2 286.2 L302.8 286.3 L303.4 285.3 L304.0 286.3 L304.6 286.9 L305.2 288.0 L305.8 287.3 L306.4 286.7 L307.0 287.4 L307.6 286.9 L308.2 288.0 L308.8 287.5 L309.4 287.6 L310.0 287.7 L310.6 286.9 L311.2 287.3 L311.8 287.0 L312.4 287.3 L313.0 287.2 L313.6 287.7 L314.2 288.8 L314.8 288.6 L315.4 288.1 L316.0 289.5 L316.6 289.7 L317.2 291.3 L317.8 291.2 L318.4 291.0 L319.0 290.9 L319.6 291.4 L320.2 290.3 L320.8 289.9 L321.4 290.2 L322.0 291.3 L322.6 291.9 L323.2 291.7 L323.8 290.6 L324.4 290.6 L325.0 290.0 L325.6 289.2 L326.2 290.5 L326.8 290.0 L327.4 290.3 L328.0 289.4 L328.6 289.7 L329.2 289.0 L329.8 288.5 L330.4 288.2 L331.0 288.7 L331.6 288.9 L332.2 289.8 L332.8 289.4 L333.4 290.4 L334.0 290.6 L334.6 290.9 L335.2 289.8 L335.8 290.1 L336.4 289.3 L337.0 290.2 L337.6 290.2 L338.2 290.9 L338.8 291.1 L339.4 289.6 L340.0 290.8 L340.6 290.9 L341.2 291.1 L341.8 292.3 L342.4 291.9 L343.0 292.4 L343.6 291.3 L344.2 290.8 L344.8 291.6 L345.4 291.4 L346.0 290.9 L346.6 290.4 L347.2 290.9 L347.8 291.9 L348.4 292.0 L349.0 293.1 L349.6 292.5 L350.2 292.6 L350.8 292.2 L351.4 291.5 L352.0 292.1 L352.6 291.3 L353.2 291.0 L353.8 292.3 L354.4 293.2 L355.0 293.2 L355.6 290.8 L356.2 291.3 L356.8 291.5 L357.4 293.4 L358.0 292.4 L358.6 290.6 L359.2 289.8 L359.8 290.1 L360.4 290.6 L361.0 292.0 L361.6 291.0 L362.2 292.3 L362.8 292.1 L363.4 292.3 L364.0 291.4 L364.6 292.2 L365.2 290.8 L365.8 292.4 L366.4 291.4 L367.0 293.1 L367.6 292.2 L368.2 291.9 L368.8 291.9 L369.4 291.4 L370.0 290.5 L370.6 291.3 L371.2 290.8 L371.8 292.1 L372.4 290.4 L373.0 291.9 L373.6 290.0 L374.2 291.0 L374.8 291.3 L375.4 290.2 L376.0 290.8 L376.6 290.4 L377.2 290.4 L377.8 289.7 L378.4 290.4 L379.0 289.7 L379.6 288.7 L380.2 290.1 L380.8 291.7 L381.4 292.4 L382.0 292.4 L382.6 291.5 L383.2 291.5 L383.8 292.5 L384.4 292.4 L385.0 292.2 L385.6 291.4 L386.2 292.0 L386.8 291.2 L387.4 290.8 L388.0 291.2 L388.6 291.1 L389.2 291.8 L389.8 290.1 L390.4 291.4 L391.0 292.3 L391.6 292.4 L392.2 293.6 L392.8 293.6 L393.4 293.6 L394.0 291.4 L394.6 291.3 L395.2 291.5 L395.8 291.7 L396.4 291.6 L397.0 292.0 L397.6 293.9 L398.2 294.8 L398.8 295.1 L399.4 294.2 L400.0 293.1 L400.6 291.8 L401.2 293.1 L401.8 292.7 L402.4 293.8 L403.0 292.9 L403.6 292.5 L404.2 292.4 L404.8 293.1 L405.4 294.8 L406.0 296.1 L406.6 296.3 L407.2 293.7 L407.8 293.8 L408.4 294.6 L409.0 293.9 L409.6 294.6 L410.2 293.6 L410.8 293.5" fill="none" stroke="#e60000" stroke-width="1.35" stroke-linejoin="round"/>
<path d="M250.0 255.9 L250.6 255.7 L251.2 256.3 L251.8 257.4 L252.4 257.6 L253.0 258.0 L253.6 256.8 L254.2 256.8 L254.8 256.9 L255.4 257.2 L256.0 256.5 L256.6 257.6 L257.2 257.1 L257.8 258.9 L258.4 259.3 L259.0 259.5 L259.6 259.6 L260.2 258.6 L260.8 259.9 L261.4 259.3 L262.0 262.4 L262.6 262.0 L263.2 261.8 L263.8 262.3 L264.4 263.2 L265.0 263.8 L265.6 262.9 L266.2 263.9 L266.8 264.8 L267.4 264.5 L268.0 264.1 L268.6 263.5 L269.2 264.4 L269.8 265.9 L270.4 265.5 L271.0 265.2 L271.6 262.8 L272.2 262.8 L272.8 264.4 L273.4 264.6 L274.0 265.1 L274.6 265.2 L275.2 264.8 L275.8 265.3 L276.4 264.8 L277.0 267.2 L277.6 266.7 L278.2 267.2 L278.8 268.0 L279.4 267.5 L280.0 267.9 L280.6 267.5 L281.2 267.5 L281.8 268.5 L282.4 268.7 L283.0 268.9 L283.6 268.1 L284.2 267.9 L284.8 268.4 L285.4 268.4 L286.0 269.6 L286.6 268.9 L287.2 269.6 L287.8 268.5 L288.4 268.4 L289.0 268.7 L289.6 269.2 L290.2 268.5 L290.8 268.9 L291.4 269.0 L292.0 270.1 L292.6 270.6 L293.2 270.1 L293.8 269.5 L294.4 270.1 L295.0 269.9 L295.6 268.8 L296.2 269.3 L296.8 271.1 L297.4 271.2 L298.0 271.9 L298.6 272.4 L299.2 272.0 L299.8 273.1 L300.4 271.5 L301.0 271.2 L301.6 271.9 L302.2 271.8 L302.8 272.5 L303.4 271.6 L304.0 273.9 L304.6 272.5 L305.2 272.3 L305.8 271.4 L306.4 273.0 L307.0 274.4 L307.6 274.4 L308.2 273.1 L308.8 272.7 L309.4 274.0 L310.0 272.9 L310.6 273.0 L311.2 273.3 L311.8 272.0 L312.4 271.1 L313.0 271.2 L313.6 273.1 L314.2 273.0 L314.8 272.1 L315.4 271.7 L316.0 270.8 L316.6 272.4 L317.2 272.8 L317.8 274.3 L318.4 273.9 L319.0 273.6 L319.6 276.1 L320.2 275.9 L320.8 276.2 L321.4 275.2 L322.0 275.3 L322.6 276.7 L323.2 275.9 L323.8 274.8 L324.4 274.9 L325.0 275.1 L325.6 276.9 L326.2 276.9 L326.8 276.1 L327.4 275.3 L328.0 275.2 L328.6 275.6 L329.2 274.6 L329.8 275.3 L330.4 276.4 L331.0 275.6 L331.6 274.7 L332.2 274.3 L332.8 273.7 L333.4 275.6 L334.0 275.3 L334.6 275.8 L335.2 273.5 L335.8 273.5 L336.4 273.6 L337.0 274.7 L337.6 274.1 L338.2 274.6 L338.8 274.9 L339.4 273.8 L340.0 272.2 L340.6 271.3 L341.2 273.1 L341.8 271.8 L342.4 272.8 L343.0 272.1 L343.6 272.4 L344.2 272.7 L344.8 273.8 L345.4 273.9 L346.0 273.0 L346.6 273.7 L347.2 274.1 L347.8 273.8 L348.4 273.9 L349.0 275.6 L349.6 275.8 L350.2 275.7 L350.8 273.3 L351.4 274.1 L352.0 273.2 L352.6 274.6 L353.2 274.2 L353.8 274.3 L354.4 273.8 L355.0 274.0 L355.6 274.1 L356.2 273.6 L356.8 273.4 L357.4 273.8 L358.0 273.8 L358.6 274.4 L359.2 274.2 L359.8 272.9 L360.4 273.5 L361.0 273.1 L361.6 274.3 L362.2 274.3 L362.8 275.2 L363.4 274.7 L364.0 275.0 L364.6 274.4 L365.2 275.3 L365.8 275.6 L366.4 275.2 L367.0 276.0 L367.6 275.4 L368.2 276.3 L368.8 276.9 L369.4 276.1 L370.0 275.3 L370.6 275.0 L371.2 275.1 L371.8 275.3 L372.4 274.1 L373.0 273.3 L373.6 273.9 L374.2 274.9 L374.8 275.8 L375.4 274.8 L376.0 274.8 L376.6 274.4 L377.2 274.1 L377.8 272.9 L378.4 273.4 L379.0 274.4 L379.6 274.6 L380.2 275.3 L380.8 274.9 L381.4 275.1 L382.0 275.0 L382.6 275.9 L383.2 275.5 L383.8 275.6 L384.4 275.9 L385.0 275.8 L385.6 275.4 L386.2 274.8 L386.8 274.9 L387.4 274.0 L388.0 273.1 L388.6 273.3 L389.2 274.2 L389.8 274.6 L390.4 275.5 L391.0 273.9 L391.6 274.0 L392.2 274.0 L392.8 274.3 L393.4 274.4 L394.0 273.6 L394.6 274.8 L395.2 276.5 L395.8 277.8 L396.4 277.5 L397.0 275.9 L397.6 276.7 L398.2 276.0 L398.8 276.7 L399.4 276.5 L400.0 276.4 L400.6 275.2 L401.2 274.4 L401.8 274.7 L402.4 275.8 L403.0 276.3 L403.6 276.4 L404.2 275.8 L404.8 275.7 L405.4 275.5 L406.0 275.6 L406.6 275.9 L407.2 275.6 L407.8 276.6 L408.4 275.5 L409.0 277.0 L409.6 277.3 L410.2 277.2 L410.8 276.2" fill="none" stroke="#0000ff" stroke-width="1.35" stroke-linejoin="round"/>
<rect x="249.4" y="192.1" width="162.04999999999998" height="120.45000000000002" fill="none" stroke="#222" stroke-width="1.15"/>
<line x1="249.40" y1="312.55" x2="249.40" y2="310.25" stroke="#222" stroke-width="1"/>
<text font-size="9.83" text-anchor="middle" fill="#000"  transform="translate(249.40,324.15) scale(1.0989,1)" stroke="#000" stroke-width="0.22">400</text>
<line x1="303.42" y1="312.55" x2="303.42" y2="310.25" stroke="#222" stroke-width="1"/>
<text font-size="9.83" text-anchor="middle" fill="#000"  transform="translate(303.42,324.15) scale(1.0989,1)" stroke="#000" stroke-width="0.22">500</text>
<line x1="357.43" y1="312.55" x2="357.43" y2="310.25" stroke="#222" stroke-width="1"/>
<text font-size="9.83" text-anchor="middle" fill="#000"  transform="translate(357.43,324.15) scale(1.0989,1)" stroke="#000" stroke-width="0.22">600</text>
<line x1="411.45" y1="312.55" x2="411.45" y2="310.25" stroke="#222" stroke-width="1"/>
<text font-size="9.83" text-anchor="middle" fill="#000"  transform="translate(411.45,324.15) scale(1.0989,1)" stroke="#000" stroke-width="0.22">700</text>
<line x1="276.41" y1="312.55" x2="276.41" y2="311.17" stroke="#222" stroke-width="1"/>
<line x1="330.43" y1="312.55" x2="330.43" y2="311.17" stroke="#222" stroke-width="1"/>
<line x1="384.44" y1="312.55" x2="384.44" y2="311.17" stroke="#222" stroke-width="1"/>
<line x1="249.4" y1="295.34" x2="251.70000000000002" y2="295.34" stroke="#222" stroke-width="1"/>
<text font-size="9.83" text-anchor="end" fill="#000"  transform="translate(246.3,299.14) scale(1.0989,1)" stroke="#000" stroke-width="0.22">0</text>
<line x1="249.4" y1="260.93" x2="251.70000000000002" y2="260.93" stroke="#222" stroke-width="1"/>
<text font-size="9.83" text-anchor="end" fill="#000"  transform="translate(246.3,264.73) scale(1.0989,1)" stroke="#000" stroke-width="0.22">2</text>
<line x1="249.4" y1="226.52" x2="251.70000000000002" y2="226.52" stroke="#222" stroke-width="1"/>
<text font-size="9.83" text-anchor="end" fill="#000"  transform="translate(246.3,230.32) scale(1.0989,1)" stroke="#000" stroke-width="0.22">4</text>
<line x1="249.4" y1="192.10" x2="251.70000000000002" y2="192.10" stroke="#222" stroke-width="1"/>
<text font-size="9.83" text-anchor="end" fill="#000"  transform="translate(246.3,195.90) scale(1.0989,1)" stroke="#000" stroke-width="0.22">6</text>
<line x1="249.4" y1="312.55" x2="250.8" y2="312.55" stroke="#222" stroke-width="1"/>
<line x1="249.4" y1="278.14" x2="250.8" y2="278.14" stroke="#222" stroke-width="1"/>
<line x1="249.4" y1="243.72" x2="250.8" y2="243.72" stroke="#222" stroke-width="1"/>
<line x1="249.4" y1="209.31" x2="250.8" y2="209.31" stroke="#222" stroke-width="1"/>
<text font-size="10.56" text-anchor="middle" fill="#000"  transform="translate(330.9,338.4) scale(1.0989,1)" stroke="#000" stroke-width="0.22">Wavelength (nm)</text>
<text transform="translate(229.9,256.9) rotate(-90) scale(1.0989,1)" font-size="10.37" text-anchor="middle" stroke="#000" stroke-width="0.22">Absorbance (a.u.)</text>
<line x1="367.3" y1="199.80" x2="381.1" y2="199.80" stroke="#000" stroke-width="1.4"/>
<text font-size="10.46" text-anchor="start" fill="#000"  transform="translate(383.8,202.30) scale(1.0989,1)" stroke="#000" stroke-width="0.22">0%</text>
<line x1="367.3" y1="213.85" x2="381.1" y2="213.85" stroke="#e60000" stroke-width="1.4"/>
<text font-size="10.46" text-anchor="start" fill="#000"  transform="translate(383.8,216.35) scale(1.0989,1)" stroke="#000" stroke-width="0.22">-20%</text>
<line x1="367.3" y1="227.90" x2="381.1" y2="227.90" stroke="#0000ff" stroke-width="1.4"/>
<text font-size="10.46" text-anchor="start" fill="#000"  transform="translate(383.8,230.40) scale(1.0989,1)" stroke="#000" stroke-width="0.22">-40%</text>
<path d="M41.7 394.6 L42.2 394.8 L42.7 395.0 L43.2 395.5 L43.7 395.6 L44.2 395.9 L44.7 396.9 L45.2 397.0 L45.7 396.9 L46.2 396.9 L46.7 397.4 L47.2 398.0 L47.7 398.5 L48.2 399.3 L48.7 398.7 L49.2 399.2 L49.7 399.3 L50.2 399.7 L50.7 399.9 L51.2 399.9 L51.7 401.0 L52.2 400.9 L52.7 401.6 L53.2 401.3 L53.7 401.9 L54.2 402.3 L54.7 401.8 L55.2 402.3 L55.7 403.4 L56.2 403.5 L56.7 403.2 L57.2 403.9 L57.7 404.1 L58.2 404.7 L58.7 405.7 L59.2 405.4 L59.7 406.6 L60.2 406.2 L60.7 406.3 L61.2 407.4 L61.7 407.5 L62.2 407.9 L62.7 408.4 L63.2 408.4 L63.7 408.7 L64.2 407.9 L64.7 408.4 L65.2 409.1 L65.7 409.3 L66.2 409.7 L66.7 409.6 L67.2 410.3 L67.7 410.9 L68.2 410.6 L68.7 410.9 L69.2 411.0 L69.7 411.4 L70.2 411.3 L70.7 411.3 L71.2 411.7 L71.7 411.9 L72.2 411.5 L72.7 412.4 L73.2 412.5 L73.7 412.7 L74.2 412.7 L74.7 413.3 L75.2 413.5 L75.7 413.3 L76.2 413.9 L76.7 414.2 L77.2 414.4 L77.7 414.1 L78.2 414.3 L78.7 414.9 L79.2 414.7 L79.7 416.2 L80.2 415.2 L80.7 415.5 L81.2 416.2 L81.7 416.0 L82.2 415.5 L82.7 416.5 L83.2 416.4 L83.7 416.7 L84.2 416.5 L84.7 416.9 L85.2 417.4 L85.7 417.6 L86.2 417.4 L86.7 417.7 L87.2 417.8 L87.7 418.3 L88.2 418.4 L88.7 418.1 L89.2 418.9 L89.7 418.6 L90.2 419.1 L90.7 418.7 L91.2 419.2 L91.7 419.2 L92.2 419.4 L92.7 419.6 L93.2 419.7 L93.7 419.8 L94.2 419.9 L94.7 419.5 L95.2 420.0 L95.7 419.4 L96.2 419.6 L96.7 420.4 L97.2 420.5 L97.7 421.3 L98.2 421.1 L98.7 421.4 L99.2 421.1 L99.7 421.5 L100.2 421.9 L100.7 421.8 L101.2 421.9 L101.7 422.0 L102.2 421.8 L102.7 421.9 L103.2 421.9 L103.7 422.7 L104.2 422.6 L104.7 422.6 L105.2 423.1 L105.7 422.9 L106.2 423.6 L106.7 424.1 L107.2 423.7 L107.7 423.5 L108.2 423.3 L108.7 424.7 L109.2 424.3 L109.7 423.9 L110.2 424.8 L110.7 424.0 L111.2 424.6 L111.7 424.8 L112.2 424.9 L112.7 424.8 L113.2 426.2 L113.7 425.4 L114.2 425.8 L114.7 425.8 L115.2 425.4 L115.7 425.9 L116.2 426.3 L116.7 426.7 L117.2 426.5 L117.7 426.8 L118.2 426.8 L118.7 427.2 L119.2 426.3 L119.7 427.5 L120.2 427.3 L120.7 427.4 L121.2 426.8 L121.7 427.6 L122.2 428.3 L122.7 429.0 L123.2 428.1 L123.7 428.3 L124.2 428.8 L124.7 428.9 L125.2 428.8 L125.7 429.1 L126.2 429.1 L126.7 429.6 L127.2 429.9 L127.7 430.3 L128.2 430.2 L128.7 430.3 L129.2 430.2 L129.7 430.7 L130.2 430.1 L130.7 431.4 L131.2 430.9 L131.7 431.4 L132.2 430.8 L132.7 431.6 L133.2 431.5 L133.7 431.5 L134.2 431.5 L134.7 431.5 L135.2 432.6 L135.7 432.6 L136.2 432.3 L136.7 432.5 L137.2 432.4 L137.7 432.1 L138.2 432.3 L138.7 432.9 L139.2 433.2 L139.7 433.0 L140.2 433.8 L140.7 433.8 L141.2 433.9 L141.7 433.4 L142.2 434.0 L142.7 434.3 L143.2 434.0 L143.7 433.8 L144.2 435.3 L144.7 435.0 L145.2 434.8 L145.7 435.6 L146.2 435.5 L146.7 435.4 L147.2 435.4 L147.7 435.7 L148.2 436.0 L148.7 435.6 L149.2 435.6 L149.7 436.0 L150.2 434.9 L150.7 436.0 L151.2 435.9 L151.7 436.2 L152.2 436.2 L152.7 436.5 L153.2 436.5 L153.7 436.6 L154.2 436.6 L154.7 436.9 L155.2 436.7 L155.7 437.3 L156.2 436.5 L156.7 437.3 L157.2 437.5 L157.7 437.0 L158.2 437.4 L158.7 438.1 L159.2 437.7 L159.7 437.6 L160.2 437.0 L160.7 438.3 L161.2 438.3 L161.7 438.6 L162.2 439.2 L162.7 438.6 L163.2 438.8 L163.7 438.6 L164.2 439.0 L164.7 439.1 L165.2 439.5 L165.7 439.6 L166.2 439.2 L166.7 439.4 L167.2 440.2 L167.7 439.5 L168.2 440.2 L168.7 440.6 L169.2 440.4 L169.7 440.4 L170.2 440.9 L170.7 440.6 L171.2 440.6 L171.7 440.6 L172.2 441.2 L172.7 441.1 L173.2 441.5 L173.7 441.0 L174.2 441.1 L174.7 441.1 L175.2 441.5 L175.7 441.2 L176.2 441.9 L176.7 441.8 L177.2 441.4 L177.7 440.8 L178.2 441.3 L178.7 442.6 L179.2 442.1 L179.7 442.3 L180.2 442.2 L180.7 442.6 L181.2 441.9 L181.7 441.9 L182.2 442.2 L182.7 442.9 L183.2 443.2 L183.7 443.2 L184.2 443.1 L184.7 442.8 L185.2 443.6 L185.7 443.4 L186.2 443.5 L186.7 443.6 L187.2 443.6 L187.7 443.6 L188.2 443.8 L188.7 443.6 L189.2 444.3 L189.7 444.2 L190.2 444.7 L190.7 443.8 L191.2 445.0 L191.7 444.6 L192.2 444.7 L192.7 444.6 L193.2 444.6 L193.7 444.5 L194.2 445.4 L194.7 445.0 L195.2 445.4 L195.7 445.5 L196.2 445.0 L196.7 445.2 L197.2 445.1 L197.7 445.7 L198.2 445.4 L198.7 445.4 L199.2 445.7 L199.7 445.4 L200.2 446.2 L200.7 445.2 L201.2 446.0 L201.7 446.1 L202.2 445.2 L202.7 445.9" fill="none" stroke="#0000ff" stroke-width="1.15" stroke-linejoin="round"/>
<path d="M41.7 394.7 L42.2 395.1 L42.8 394.9 L43.3 395.7 L43.9 395.8 L44.4 396.3 L45.0 397.3 L45.5 397.2 L46.1 396.9 L46.6 397.6 L47.2 398.0 L47.7 399.1 L48.3 398.9 L48.8 398.9 L49.4 400.2 L49.9 400.1 L50.5 400.4 L51.0 400.2 L51.6 401.5 L52.1 401.0 L52.7 400.5 L53.2 401.3 L53.8 401.8 L54.3 402.6 L54.9 403.6 L55.4 403.4 L56.0 404.0 L56.5 406.2 L57.1 405.5 L57.6 405.8 L58.2 406.8 L58.7 406.8 L59.3 408.6 L59.8 409.7 L60.4 409.4 L60.9 411.3 L61.5 411.0 L62.0 412.2 L62.6 412.2 L63.1 412.9 L63.7 413.1 L64.2 415.2 L64.8 415.5 L65.3 416.3 L65.9 416.3 L66.4 417.0 L67.0 418.0 L67.5 419.6 L68.1 420.0 L68.6 419.5 L69.2 421.0 L69.7 423.1 L70.3 421.8 L70.8 424.4 L71.4 423.1 L71.9 424.7 L72.5 423.0 L73.0 425.6 L73.6 423.3 L74.1 425.4 L74.7 425.2 L75.2 423.7 L75.8 424.9 L76.3 428.7 L76.9 428.3 L77.4 429.9 L78.0 428.8 L78.5 425.2 L79.1 429.9 L79.6 429.2 L80.2 429.6 L80.7 429.9 L81.3 429.6 L81.8 429.4 L82.4 433.0 L82.9 431.8 L83.5 430.1 L84.0 430.6 L84.6 433.3 L85.1 432.6 L85.7 432.6 L86.2 430.6 L86.8 432.2 L87.3 431.4 L87.9 430.4 L88.4 435.8 L89.0 433.8 L89.5 434.0 L90.1 433.3 L90.6 437.0 L91.2 440.3 L91.7 437.4 L92.3 438.5 L92.8 434.3 L93.4 437.5 L93.9 437.9 L94.5 441.2 L95.0 437.8 L95.6 436.0 L96.1 438.1 L96.7 437.6 L97.2 442.5 L97.8 440.7 L98.3 440.1 L98.9 439.9 L99.4 442.0 L100.0 438.8 L100.5 438.0 L101.1 435.9 L101.6 444.4 L102.2 442.7 L102.7 443.5 L103.3 442.1 L103.8 447.4 L104.4 440.0 L104.9 446.7 L105.5 441.0 L106.0 442.4 L106.6 440.6 L107.1 444.6 L107.7 443.7 L108.2 446.3 L108.8 443.3 L109.3 441.1 L109.9 447.4 L110.4 450.2 L111.0 448.5 L111.5 446.0 L112.1 447.8 L112.6 441.2 L113.2 445.7 L113.7 451.3 L114.3 448.9 L114.8 444.6 L115.4 450.9 L115.9 447.4 L116.5 451.0 L117.0 443.5 L117.6 446.7 L118.1 450.0 L118.7 450.2 L119.2 451.4 L119.8 449.3 L120.3 448.8 L120.9 451.7 L121.4 453.5 L122.0 444.5 L122.5 449.0 L123.1 449.6 L123.6 451.2 L124.2 455.1 L124.7 445.8 L125.3 453.4 L125.8 444.6 L126.4 448.5 L126.9 449.5 L127.5 450.6 L128.0 449.5 L128.6 450.0 L129.1 450.8 L129.7 451.3 L130.2 445.2 L130.8 447.1 L131.3 451.1 L131.9 455.4 L132.4 457.8 L133.0 466.7 L133.5 453.8 L134.1 450.2 L134.6 454.4 L135.2 456.9 L135.7 454.4 L136.3 449.4 L136.8 453.6 L137.4 453.9 L137.9 448.2 L138.5 449.1 L139.0 460.4 L139.6 444.9 L140.1 455.5 L140.7 453.6 L141.2 461.9 L141.8 458.1 L142.3 451.2 L142.9 461.7 L143.4 452.8 L144.0 465.8 L144.5 464.2 L145.1 455.4 L145.6 459.9 L146.2 457.0 L146.7 452.1 L147.3 462.1 L147.8 458.8 L148.4 461.3 L148.9 462.7 L149.5 464.7 L150.0 462.9 L150.6 457.0 L151.1 458.0 L151.7 460.0 L152.2 457.3 L152.8 457.0 L153.3 468.4 L153.9 461.1 L154.4 468.9 L155.0 455.1 L155.5 458.7 L156.1 457.0 L156.6 457.4 L157.2 458.0 L157.7 458.9 L158.3 457.5 L158.8 469.5 L159.4 463.5 L159.9 456.4 L160.5 457.4 L161.0 464.2 L161.6 463.2 L162.1 457.5 L162.7 465.5 L163.2 453.8 L163.8 458.5 L164.3 470.2 L164.9 448.7 L165.4 460.1 L166.0 466.5 L166.5 460.6 L167.1 457.7 L167.6 457.3 L168.2 451.8 L168.7 455.5 L169.3 462.2 L169.8 459.2 L170.4 462.0 L170.9 461.4 L171.5 463.8 L172.0 454.5 L172.6 461.0 L173.1 461.0 L173.7 461.2 L174.2 458.6 L174.8 452.6 L175.3 466.4 L175.9 467.5 L176.4 476.1 L177.0 467.3 L177.5 472.4 L178.1 466.8 L178.6 461.8 L179.2 466.4 L179.7 458.4 L180.3 465.3 L180.8 463.6 L181.4 459.2 L181.9 470.9 L182.5 470.5 L183.0 467.0 L183.6 469.1 L184.1 473.7 L184.7 464.2 L185.2 458.6 L185.8 460.6 L186.3 469.0 L186.9 466.6 L187.4 458.4 L188.0 472.7 L188.5 476.0 L189.1 474.6 L189.6 472.0 L190.2 488.7 L190.7 466.6 L191.3 462.8 L191.8 462.4 L192.4 465.0 L192.9 469.2 L193.5 473.9 L194.0 462.2 L194.6 470.2 L195.1 466.4 L195.7 465.0 L196.2 472.1 L196.8 464.1 L197.3 473.2 L197.9 464.0 L198.4 461.1 L199.0 469.5 L199.5 458.3 L200.1 459.4 L200.6 464.0 L201.2 464.8 L201.7 463.4 L202.3 455.2 L202.8 458.1" fill="none" stroke="#e60000" stroke-width="1.15" stroke-linejoin="round"/>
<rect x="41.2" y="377.5" width="162.2" height="120.5" fill="none" stroke="#222" stroke-width="1.15"/>
<line x1="41.20" y1="498" x2="41.20" y2="495.7" stroke="#222" stroke-width="1"/>
<text font-size="9.83" text-anchor="middle" fill="#000"  transform="translate(41.20,509.20) scale(1.0989,1)" stroke="#000" stroke-width="0.22">0</text>
<line x1="61.48" y1="498" x2="61.48" y2="496.6" stroke="#222" stroke-width="1"/>
<line x1="81.75" y1="498" x2="81.75" y2="495.7" stroke="#222" stroke-width="1"/>
<text font-size="9.83" text-anchor="middle" fill="#000"  transform="translate(81.75,509.20) scale(1.0989,1)" stroke="#000" stroke-width="0.22">2</text>
<line x1="102.03" y1="498" x2="102.03" y2="496.6" stroke="#222" stroke-width="1"/>
<line x1="122.30" y1="498" x2="122.30" y2="495.7" stroke="#222" stroke-width="1"/>
<text font-size="9.83" text-anchor="middle" fill="#000"  transform="translate(122.30,509.20) scale(1.0989,1)" stroke="#000" stroke-width="0.22">4</text>
<line x1="142.57" y1="498" x2="142.57" y2="496.6" stroke="#222" stroke-width="1"/>
<line x1="162.85" y1="498" x2="162.85" y2="495.7" stroke="#222" stroke-width="1"/>
<text font-size="9.83" text-anchor="middle" fill="#000"  transform="translate(162.85,509.20) scale(1.0989,1)" stroke="#000" stroke-width="0.22">6</text>
<line x1="183.12" y1="498" x2="183.12" y2="496.6" stroke="#222" stroke-width="1"/>
<line x1="203.40" y1="498" x2="203.40" y2="495.7" stroke="#222" stroke-width="1"/>
<text font-size="9.83" text-anchor="middle" fill="#000"  transform="translate(203.40,509.20) scale(1.0989,1)" stroke="#000" stroke-width="0.22">8</text>
<line x1="41.2" y1="393.90" x2="43.900000000000006" y2="393.90" stroke="#222" stroke-width="1.1"/>
<line x1="41.2" y1="418.57" x2="42.800000000000004" y2="418.57" stroke="#222" stroke-width="0.9"/>
<line x1="41.2" y1="412.36" x2="42.800000000000004" y2="412.36" stroke="#222" stroke-width="0.9"/>
<line x1="41.2" y1="407.95" x2="42.800000000000004" y2="407.95" stroke="#222" stroke-width="0.9"/>
<line x1="41.2" y1="404.53" x2="42.800000000000004" y2="404.53" stroke="#222" stroke-width="0.9"/>
<line x1="41.2" y1="401.73" x2="42.800000000000004" y2="401.73" stroke="#222" stroke-width="0.9"/>
<line x1="41.2" y1="399.37" x2="42.800000000000004" y2="399.37" stroke="#222" stroke-width="0.9"/>
<line x1="41.2" y1="397.32" x2="42.800000000000004" y2="397.32" stroke="#222" stroke-width="0.9"/>
<line x1="41.2" y1="395.52" x2="42.800000000000004" y2="395.52" stroke="#222" stroke-width="0.9"/>
<line x1="41.2" y1="429.20" x2="43.900000000000006" y2="429.20" stroke="#222" stroke-width="1.1"/>
<line x1="41.2" y1="453.87" x2="42.800000000000004" y2="453.87" stroke="#222" stroke-width="0.9"/>
<line x1="41.2" y1="447.66" x2="42.800000000000004" y2="447.66" stroke="#222" stroke-width="0.9"/>
<line x1="41.2" y1="443.25" x2="42.800000000000004" y2="443.25" stroke="#222" stroke-width="0.9"/>
<line x1="41.2" y1="439.83" x2="42.800000000000004" y2="439.83" stroke="#222" stroke-width="0.9"/>
<line x1="41.2" y1="437.03" x2="42.800000000000004" y2="437.03" stroke="#222" stroke-width="0.9"/>
<line x1="41.2" y1="434.67" x2="42.800000000000004" y2="434.67" stroke="#222" stroke-width="0.9"/>
<line x1="41.2" y1="432.62" x2="42.800000000000004" y2="432.62" stroke="#222" stroke-width="0.9"/>
<line x1="41.2" y1="430.82" x2="42.800000000000004" y2="430.82" stroke="#222" stroke-width="0.9"/>
<line x1="41.2" y1="464.50" x2="43.900000000000006" y2="464.50" stroke="#222" stroke-width="1.1"/>
<line x1="41.2" y1="489.17" x2="42.800000000000004" y2="489.17" stroke="#222" stroke-width="0.9"/>
<line x1="41.2" y1="482.96" x2="42.800000000000004" y2="482.96" stroke="#222" stroke-width="0.9"/>
<line x1="41.2" y1="478.55" x2="42.800000000000004" y2="478.55" stroke="#222" stroke-width="0.9"/>
<line x1="41.2" y1="475.13" x2="42.800000000000004" y2="475.13" stroke="#222" stroke-width="0.9"/>
<line x1="41.2" y1="472.33" x2="42.800000000000004" y2="472.33" stroke="#222" stroke-width="0.9"/>
<line x1="41.2" y1="469.97" x2="42.800000000000004" y2="469.97" stroke="#222" stroke-width="0.9"/>
<line x1="41.2" y1="467.92" x2="42.800000000000004" y2="467.92" stroke="#222" stroke-width="0.9"/>
<line x1="41.2" y1="466.12" x2="42.800000000000004" y2="466.12" stroke="#222" stroke-width="0.9"/>
<text font-size="8.01" transform="translate(25.2,396.90) scale(1.0989,1)" stroke="#000" stroke-width="0.22">10<tspan dy="-3.8" font-size="4.55" fill="#999">0</tspan></text>
<text font-size="8.01" transform="translate(25.2,432.20) scale(1.0989,1)" stroke="#000" stroke-width="0.22">10<tspan dy="-3.8" font-size="4.55" fill="#999">-1</tspan></text>
<text font-size="8.01" transform="translate(25.2,467.50) scale(1.0989,1)" stroke="#000" stroke-width="0.22">10<tspan dy="-3.8" font-size="4.55" fill="#999">-2</tspan></text>
<text font-size="10.56" text-anchor="middle" fill="#000"  transform="translate(122.4,524.7) scale(1.0989,1)" stroke="#000" stroke-width="0.22">Time (ns)</text>
<text transform="translate(13.3,442.9) rotate(-90) scale(1.0989,1)" font-size="10.37" text-anchor="middle" stroke="#000" stroke-width="0.22">Intensity (a.u.)</text>
<text font-size="10.65" transform="translate(45.3,391.9) scale(1.0989,1)" stroke="#000" stroke-width="0.22">@235.4 W cm<tspan dy="-3.2" font-size="10.74">-2</tspan></text>
<line x1="158.8" y1="385.6" x2="174.4" y2="385.6" stroke="#0000ff" stroke-width="1.2"/>
<text font-size="10.46" text-anchor="start" fill="#000"  transform="translate(174.9,388.6) scale(1.0989,1)" stroke="#000" stroke-width="0.22">0%</text>
<line x1="158.8" y1="398.7" x2="174.4" y2="398.7" stroke="#e60000" stroke-width="1.2"/>
<text font-size="10.46" text-anchor="start" fill="#000"  transform="translate(176,401.7) scale(1.0989,1)" stroke="#000" stroke-width="0.22">-30%</text>
<text font-size="10.01" text-anchor="start" fill="#0000ff"  transform="translate(134.2,429.6) scale(1.0989,1)" stroke="#0000ff" stroke-width="0.22">τ~1.46</text>
<text font-size="10.01" text-anchor="start" fill="#e60000"  transform="translate(88.7,466.1) scale(1.0989,1)" stroke="#e60000" stroke-width="0.22">τ~0.79</text>
<polyline points="272.13,389.84 290.95,403.51 308.36,410.41 361.99,422.51 395.78,425.41" fill="none" stroke="#0000ff" stroke-width="1.1"/>
<rect x="270.73" y="388.44" width="2.8" height="2.8" fill="#0000ff"/>
<rect x="289.55" y="402.11" width="2.8" height="2.8" fill="#0000ff"/>
<rect x="306.96" y="409.01" width="2.8" height="2.8" fill="#0000ff"/>
<rect x="360.59" y="421.11" width="2.8" height="2.8" fill="#0000ff"/>
<rect x="394.38" y="424.01" width="2.8" height="2.8" fill="#0000ff"/>
<polyline points="272.13,438.96 290.95,441.90 296.12,453.64 303.46,469.05 308.36,477.86 361.99,487.40 395.78,488.87" fill="none" stroke="#e60000" stroke-width="1.05"/>
<rect x="270.83" y="437.66" width="2.6" height="2.6" fill="#e60000"/>
<rect x="289.65" y="440.60" width="2.6" height="2.6" fill="#e60000"/>
<rect x="294.82" y="452.34" width="2.6" height="2.6" fill="#e60000"/>
<rect x="302.16" y="467.75" width="2.6" height="2.6" fill="#e60000"/>
<rect x="307.06" y="476.56" width="2.6" height="2.6" fill="#e60000"/>
<rect x="360.69" y="486.10" width="2.6" height="2.6" fill="#e60000"/>
<rect x="394.48" y="487.57" width="2.6" height="2.6" fill="#e60000"/>
<line x1="254.5" y1="372.9" x2="417" y2="372.9" stroke="#555" stroke-width="1.4"/>
<line x1="254.5" y1="493.9" x2="417" y2="493.9" stroke="#555" stroke-width="1.4"/>
<line x1="254.5" y1="372.2" x2="254.5" y2="494.59999999999997" stroke="#e60000" stroke-width="1.3"/>
<line x1="417" y1="372.2" x2="417" y2="494.59999999999997" stroke="#0000ff" stroke-width="1.3"/>
<line x1="268.10" y1="493.9" x2="268.10" y2="491.59999999999997" stroke="#333" stroke-width="1"/>
<text font-size="9.83" text-anchor="middle" fill="#000"  transform="translate(268.10,506.10) scale(1.0989,1)" stroke="#000" stroke-width="0.22">0</text>
<line x1="281.70" y1="493.9" x2="281.70" y2="492.5" stroke="#333" stroke-width="1"/>
<line x1="295.30" y1="493.9" x2="295.30" y2="491.59999999999997" stroke="#333" stroke-width="1"/>
<text font-size="9.83" text-anchor="middle" fill="#000"  transform="translate(295.30,506.10) scale(1.0989,1)" stroke="#000" stroke-width="0.22">50</text>
<line x1="308.90" y1="493.9" x2="308.90" y2="492.5" stroke="#333" stroke-width="1"/>
<line x1="322.50" y1="493.9" x2="322.50" y2="491.59999999999997" stroke="#333" stroke-width="1"/>
<text font-size="9.83" text-anchor="middle" fill="#000"  transform="translate(322.50,506.10) scale(1.0989,1)" stroke="#000" stroke-width="0.22">100</text>
<line x1="336.10" y1="493.9" x2="336.10" y2="492.5" stroke="#333" stroke-width="1"/>
<line x1="349.70" y1="493.9" x2="349.70" y2="491.59999999999997" stroke="#333" stroke-width="1"/>
<text font-size="9.83" text-anchor="middle" fill="#000"  transform="translate(349.70,506.10) scale(1.0989,1)" stroke="#000" stroke-width="0.22">150</text>
<line x1="363.30" y1="493.9" x2="363.30" y2="492.5" stroke="#333" stroke-width="1"/>
<line x1="376.90" y1="493.9" x2="376.90" y2="491.59999999999997" stroke="#333" stroke-width="1"/>
<text font-size="9.83" text-anchor="middle" fill="#000"  transform="translate(376.90,506.10) scale(1.0989,1)" stroke="#000" stroke-width="0.22">200</text>
<line x1="390.50" y1="493.9" x2="390.50" y2="492.5" stroke="#333" stroke-width="1"/>
<line x1="404.10" y1="493.9" x2="404.10" y2="491.59999999999997" stroke="#333" stroke-width="1"/>
<text font-size="9.83" text-anchor="middle" fill="#000"  transform="translate(404.10,506.10) scale(1.0989,1)" stroke="#000" stroke-width="0.22">250</text>
<line x1="254.5" y1="483.00" x2="257.2" y2="483.00" stroke="#e60000" stroke-width="1"/>
<text font-size="9.10" text-anchor="end" fill="#e60000"  transform="translate(251.8,486.60) scale(1.0989,1)" stroke="#e60000" stroke-width="0.22">0.80</text>
<line x1="254.5" y1="464.65" x2="256.1" y2="464.65" stroke="#e60000" stroke-width="1"/>
<line x1="254.5" y1="446.30" x2="257.2" y2="446.30" stroke="#e60000" stroke-width="1"/>
<text font-size="9.10" text-anchor="end" fill="#e60000"  transform="translate(251.8,449.90) scale(1.0989,1)" stroke="#e60000" stroke-width="0.22">0.85</text>
<line x1="254.5" y1="427.95" x2="256.1" y2="427.95" stroke="#e60000" stroke-width="1"/>
<line x1="254.5" y1="409.60" x2="257.2" y2="409.60" stroke="#e60000" stroke-width="1"/>
<text font-size="9.10" text-anchor="end" fill="#e60000"  transform="translate(251.8,413.20) scale(1.0989,1)" stroke="#e60000" stroke-width="0.22">0.90</text>
<line x1="254.5" y1="391.25" x2="256.1" y2="391.25" stroke="#e60000" stroke-width="1"/>
<line x1="254.5" y1="372.90" x2="257.2" y2="372.90" stroke="#e60000" stroke-width="1"/>
<text font-size="9.10" text-anchor="end" fill="#e60000"  transform="translate(251.8,376.50) scale(1.0989,1)" stroke="#e60000" stroke-width="0.22">0.95</text>
<line x1="417" y1="493.90" x2="414.5" y2="493.90" stroke="#0000ff" stroke-width="1"/>
<text font-size="9.10" text-anchor="start" fill="#0000ff"  transform="translate(420.2,496.70) scale(1.0989,1)" stroke="#0000ff" stroke-width="0.22">1.40</text>
<line x1="417" y1="463.65" x2="415.5" y2="463.65" stroke="#0000ff" stroke-width="1"/>
<line x1="417" y1="433.40" x2="414.5" y2="433.40" stroke="#0000ff" stroke-width="1"/>
<text font-size="9.10" text-anchor="start" fill="#0000ff"  transform="translate(420.2,436.20) scale(1.0989,1)" stroke="#0000ff" stroke-width="0.22">1.45</text>
<line x1="417" y1="403.15" x2="415.5" y2="403.15" stroke="#0000ff" stroke-width="1"/>
<line x1="417" y1="372.90" x2="414.5" y2="372.90" stroke="#0000ff" stroke-width="1"/>
<text font-size="9.10" text-anchor="start" fill="#0000ff"  transform="translate(420.2,375.70) scale(1.0989,1)" stroke="#0000ff" stroke-width="0.22">1.50</text>
<text transform="translate(229.6,433.6) rotate(-90) scale(1.0989,1)" font-size="10.28" text-anchor="middle" fill="#e60000" stroke="#e60000" stroke-width="0.22">Lifetime (ns)</text>
<text transform="translate(438.3,435.1) rotate(90) scale(1.0989,1)" font-size="10.28" text-anchor="middle" fill="#0000ff" stroke="#0000ff" stroke-width="0.22">Lifetime (ns)</text>
<clipPath id="cb"><rect x="0" y="0" width="448" height="521.9"/></clipPath>
<g clip-path="url(#cb)"><text font-size="10.37" transform="translate(254.6,521.1) scale(1.0989,1)" stroke="#000" stroke-width="0.22">Pumping power density (W cm<tspan dy="-5.4" font-size="11.83">-2</tspan><tspan dy="5.4">)</tspan></text></g>
<circle cx="282" cy="440" r="5" fill="none" stroke="#e60000" stroke-width="1.2"/>
<line x1="285" y1="434.3" x2="263" y2="434.3" stroke="#e60000" stroke-width="1.2"/>
<path d="M260.3 434.3 L265.2 432.1 L265.2 436.5 Z" fill="#e60000"/>
<circle cx="380.3" cy="425.1" r="5" fill="none" stroke="#0000ff" stroke-width="1.2"/>
<line x1="379" y1="419.9" x2="403" y2="419.9" stroke="#0000ff" stroke-width="1.2"/>
<path d="M405.7 419.9 L400.8 417.7 L400.8 422.1 Z" fill="#0000ff"/>
<line x1="375.7" y1="382.6" x2="386" y2="382.6" stroke="#0000ff" stroke-width="1.2"/><circle cx="380.8" cy="382.6" r="1.4" fill="#0000ff"/>
<text font-size="10.46" text-anchor="start" fill="#000"  transform="translate(387.1,384.6) scale(1.0989,1)" stroke="#000" stroke-width="0.22">0%</text>
<line x1="375.7" y1="395.9" x2="386" y2="395.9" stroke="#e60000" stroke-width="1.2"/><circle cx="380.8" cy="395.9" r="1.4" fill="#e60000"/>
<text font-size="10.46" text-anchor="start" fill="#000"  transform="translate(388.3,397.9) scale(1.0989,1)" stroke="#000" stroke-width="0.22">-30%</text>
</svg></body></html>
